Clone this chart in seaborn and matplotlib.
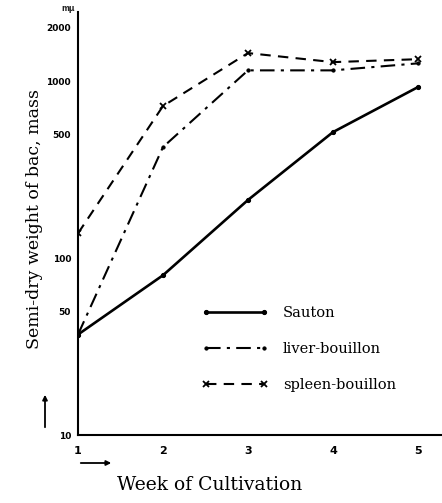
import numpy as np
import pandas as pd
import matplotlib
matplotlib.use("Agg")
import matplotlib.pyplot as plt
import seaborn as sns

# values
weeks = [1, 2, 3, 4, 5]
sauton = [37, 80, 213, 515, 925]
liver = [37, 424, 1150, 1150, 1260]
spleen = [138, 723, 1440, 1280, 1330]

y_ticks = [10, 50, 100, 500, 1000, 2000]
series_names = ["Sauton", "liver-bouillon", "spleen-bouillon"]

sns.set_theme(style="white")
plt.rcParams["font.family"] = ["DejaVu Serif"]

fig = plt.figure(figsize=(4.42, 5.03), dpi=100)
ax = fig.add_axes([0.1765, 0.135, 0.8235, 0.841])

df = pd.DataFrame({"week": weeks, "Sauton": sauton,
                   "liver-bouillon": liver, "spleen-bouillon": spleen})

# Sauton - solid with small dots
sns.lineplot(data=df, x="week", y="Sauton", ax=ax, color="black", lw=1.9,
             marker="o", markersize=3, markeredgecolor="black",
             label=series_names[0])
# liver - dash dot
sns.lineplot(data=df, x="week", y="liver-bouillon", ax=ax, color="black", lw=1.5,
             marker="o", markersize=2.3, markeredgecolor="black",
             label=series_names[1])
ax.lines[-1].set_dashes([7, 3, 1.5, 3])
# spleen - dashed with crosses
sns.lineplot(data=df, x="week", y="spleen-bouillon", ax=ax, color="black", lw=1.5,
             marker="x", markersize=5, markeredgewidth=1.3, markeredgecolor="black",
             label=series_names[2])
ax.lines[-1].set_dashes([5, 3.5])

ax.set_yscale("log")
ax.set_xlim(1, 5.283)
ax.set_ylim(10, 2455)
ax.set_yticks(y_ticks)
ax.set_yticklabels([str(v) for v in y_ticks])
ax.yaxis.set_minor_locator(matplotlib.ticker.NullLocator())
ax.set_xticks(weeks)
ax.set_xticklabels([str(w) for w in weeks])

for lab in ax.get_yticklabels():
    lab.set_fontfamily("DejaVu Sans")
    lab.set_fontweight("bold")
    lab.set_fontsize(6.5)
for lab in ax.get_xticklabels():
    lab.set_fontfamily("DejaVu Sans")
    lab.set_fontweight("bold")
    lab.set_fontsize(8)

ax.tick_params(axis="y", direction="in", length=3, width=1, pad=5, colors="black")
ax.tick_params(axis="x", length=0, pad=8, colors="black")

sns.despine(ax=ax)
for s in ["left", "bottom"]:
    ax.spines[s].set_color("black")
    ax.spines[s].set_linewidth(1.5)

ax.set_xlabel("")
ax.set_ylabel("")
fig.text(0.475, 0.035, "Week of Cultivation", ha="center", va="center",
         fontsize=13.5, color="black")
fig.text(0.078, 0.565, "Semi-dry weight of bac, mass", rotation=90,
         ha="center", va="center", fontsize=12.5, color="black")
fig.text(0.155, 0.983, "mμ", ha="center", va="center", fontsize=5.5,
         fontweight="bold", family="DejaVu Sans")

# direction arrows
fig.add_artist(matplotlib.patches.FancyArrowPatch(
    (78 / 442, 1 - 463 / 503), (114 / 442, 1 - 463 / 503),
    transform=fig.transFigure, arrowstyle="-|>", mutation_scale=7, lw=1.3, color="black"))
fig.add_artist(matplotlib.patches.FancyArrowPatch(
    (45 / 442, 1 - 430 / 503), (45 / 442, 1 - 392 / 503),
    transform=fig.transFigure, arrowstyle="-|>", mutation_scale=7, lw=1.3, color="black"))

ax.legend(loc="upper left", bbox_to_anchor=(188 / 442, 1 - 293 / 503),
          bbox_transform=fig.transFigure, frameon=False, fontsize=10.5,
          handlelength=4.6, handletextpad=1.0, labelspacing=1.5, numpoints=2,
          labelcolor="black")

fig.savefig("out.png", dpi=100, facecolor="white")
